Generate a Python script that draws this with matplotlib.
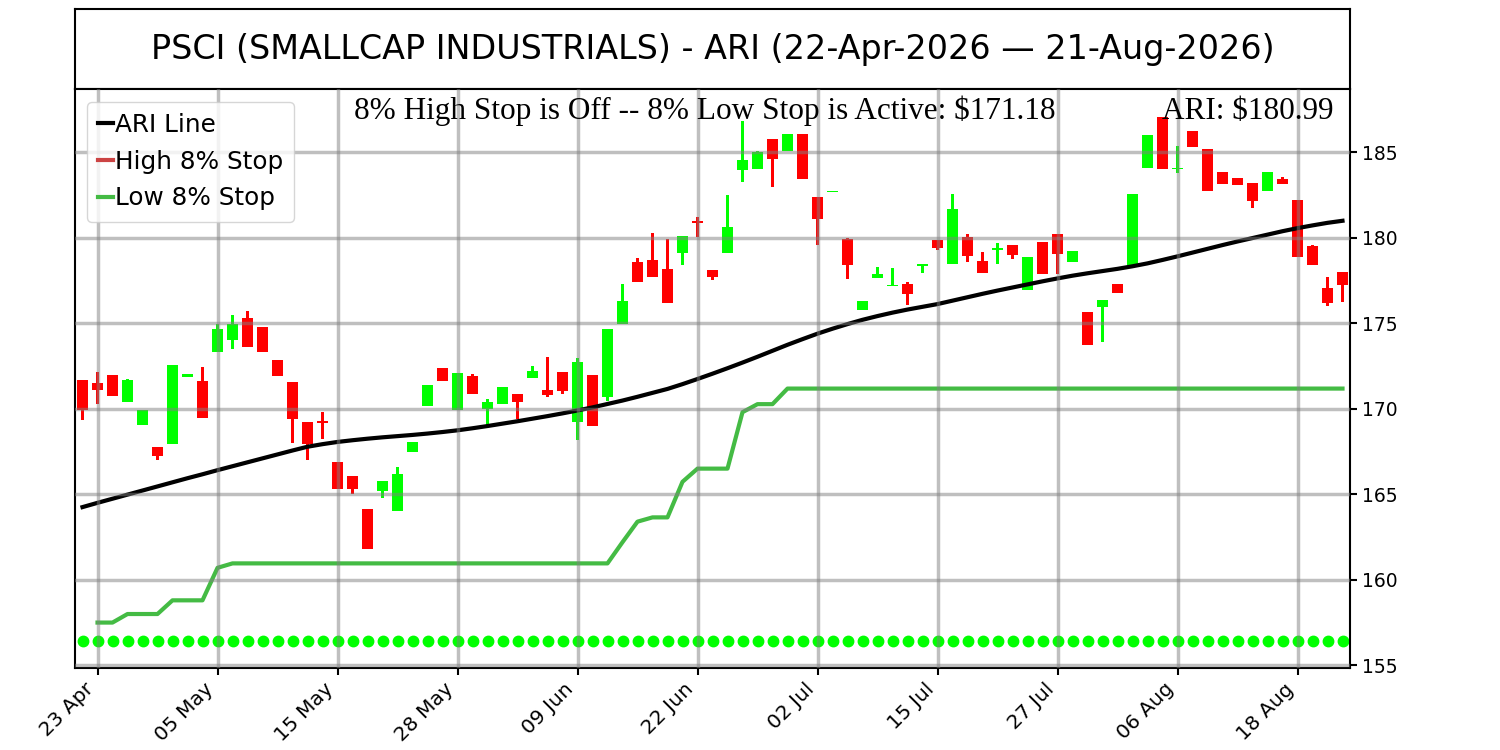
import numpy as np
import pandas as pd
import matplotlib
matplotlib.use('Agg')
import matplotlib.pyplot as plt

# trading days, US market holidays left out
dates = pd.bdate_range('2026-04-22', '2026-08-21', freq='C',
                       holidays=['2026-05-25', '2026-06-19', '2026-07-03'])

# daily candles
opens = [171.69, 171.51, 172.00, 170.38, 169.05, 167.75, 167.94, 171.86, 171.65, 173.29,
         174.01, 175.29, 174.78, 172.87, 171.59, 169.20, 169.30, 166.86, 166.06, 164.14,
         165.21, 164.05, 167.48, 170.15, 172.40, 169.94, 171.94, 170.00, 170.27, 170.89,
         171.78, 171.10, 172.17, 169.22, 171.99, 170.67, 174.94, 178.56, 178.72, 178.20,
         179.10, 181.00, 178.14, 179.10, 183.95, 183.99, 185.77, 185.08, 186.08, 182.40,
         182.68, 179.94, 175.79, 177.65, 177.15, 177.29, 178.35, 179.88, 178.47, 180.02,
         178.62, 179.30, 179.55, 176.92, 179.73, 180.23, 178.56, 175.68, 175.97, 177.29,
         178.41, 184.05, 187.06, 184.00, 186.25, 185.17, 183.86, 183.51, 183.22, 182.73,
         183.43, 182.21, 179.49, 177.05, 177.98]
highs = [171.69, 172.17, 172.00, 171.74, 169.94, 167.75, 172.58, 172.05, 172.46, 174.94,
         175.48, 175.72, 174.78, 172.87, 171.59, 169.20, 169.79, 166.86, 166.06, 164.14,
         165.76, 166.59, 168.08, 171.41, 172.40, 172.09, 172.05, 170.58, 171.30, 170.89,
         172.48, 173.04, 172.17, 172.94, 171.99, 174.67, 177.28, 178.80, 180.25, 179.92,
         180.12, 181.24, 178.14, 182.52, 186.80, 185.08, 185.77, 186.08, 186.08, 182.40,
         182.74, 180.00, 176.30, 178.27, 178.21, 177.40, 178.49, 179.88, 182.58, 180.19,
         179.15, 179.67, 179.55, 178.90, 179.73, 180.23, 179.20, 175.68, 176.34, 177.29,
         182.58, 186.00, 187.06, 185.38, 186.25, 185.17, 183.86, 183.51, 183.22, 183.86,
         183.55, 182.21, 179.55, 177.69, 177.98]
lows = [169.32, 170.29, 170.73, 170.38, 169.05, 167.00, 167.94, 171.86, 169.45, 173.29,
        173.52, 173.64, 173.29, 171.90, 168.00, 167.00, 168.22, 165.28, 165.03, 161.80,
        164.80, 164.05, 167.48, 170.15, 171.60, 169.94, 170.85, 168.93, 170.27, 169.38,
        171.78, 170.67, 170.85, 168.17, 168.99, 170.48, 174.94, 177.42, 177.71, 176.16,
        178.41, 180.03, 177.53, 179.10, 183.27, 183.99, 182.94, 185.08, 183.41, 179.57,
        182.68, 177.59, 175.79, 177.65, 177.15, 176.08, 177.94, 179.28, 178.47, 178.56,
        177.94, 178.47, 178.76, 176.92, 177.85, 177.86, 178.56, 173.70, 173.93, 176.78,
        178.41, 184.05, 183.99, 183.76, 185.28, 182.71, 183.12, 183.06, 181.76, 182.73,
        183.14, 178.87, 178.40, 176.03, 176.24]
closes = [169.94, 171.10, 170.73, 171.70, 169.94, 167.23, 172.58, 172.05, 169.45, 174.65,
          174.94, 173.64, 173.29, 171.90, 169.40, 167.94, 169.17, 165.28, 165.29, 161.80,
          165.76, 166.18, 168.08, 171.41, 171.60, 172.09, 170.85, 170.42, 171.30, 170.38,
          172.21, 170.79, 171.01, 172.73, 168.99, 174.67, 176.30, 177.42, 177.71, 176.16,
          180.12, 180.87, 177.71, 180.64, 184.53, 185.02, 184.63, 186.08, 183.41, 181.08,
          182.74, 178.43, 176.30, 177.88, 177.25, 176.69, 178.49, 179.40, 181.66, 178.95,
          177.94, 179.42, 179.01, 178.90, 177.85, 179.05, 179.20, 173.70, 176.34, 176.78,
          182.58, 186.00, 183.99, 184.10, 185.28, 182.71, 183.12, 183.06, 182.13, 183.86,
          183.14, 178.87, 178.40, 176.16, 177.21]

# ARI line
ari = [164.25, 164.50, 164.74, 164.98, 165.22, 165.46, 165.70, 165.94, 166.17, 166.41,
       166.64, 166.87, 167.10, 167.33, 167.56, 167.78, 167.93, 168.06, 168.16, 168.25,
       168.33, 168.40, 168.47, 168.55, 168.64, 168.74, 168.86, 168.99, 169.13, 169.27,
       169.42, 169.57, 169.73, 169.90, 170.08, 170.28, 170.48, 170.70, 170.93, 171.16,
       171.44, 171.74, 172.05, 172.37, 172.70, 173.04, 173.39, 173.74, 174.07, 174.39,
       174.68, 174.95, 175.20, 175.42, 175.62, 175.80, 175.96, 176.12, 176.32, 176.52,
       176.72, 176.91, 177.09, 177.27, 177.45, 177.62, 177.78, 177.92, 178.05, 178.18,
       178.33, 178.50, 178.70, 178.91, 179.13, 179.35, 179.57, 179.78, 179.98, 180.18,
       180.38, 180.56, 180.72, 180.87, 180.99]

# 8% low stop (active), high stop is off
low_stop = [np.nan, 157.50, 157.50, 158.00, 158.00, 158.00, 158.80, 158.80, 158.80, 160.70,
            160.96, 160.96, 160.96, 160.96, 160.96, 160.96, 160.96, 160.96, 160.96, 160.96,
            160.96, 160.96, 160.96, 160.96, 160.96, 160.96, 160.96, 160.96, 160.96, 160.96,
            160.96, 160.96, 160.96, 160.96, 160.96, 160.96, 162.20, 163.40, 163.65, 163.65,
            165.73, 166.50, 166.50, 166.50, 169.80, 170.27, 170.27, 171.18, 171.18, 171.18,
            171.18, 171.18, 171.18, 171.18, 171.18, 171.18, 171.18, 171.18, 171.18, 171.18,
            171.18, 171.18, 171.18, 171.18, 171.18, 171.18, 171.18, 171.18, 171.18, 171.18,
            171.18, 171.18, 171.18, 171.18, 171.18, 171.18, 171.18, 171.18, 171.18, 171.18,
            171.18, 171.18, 171.18, 171.18, 171.18]
signal_level = [156.4] * len(dates)

x = np.arange(len(dates))
o = np.array(opens)
c = np.array(closes)
h = np.array(highs)
l = np.array(lows)
colors = np.where(c >= o, '#00ff00', '#ff0000')

fig = plt.figure(figsize=(15, 7.5), dpi=100)

# title box
ax_t = fig.add_axes([0.05, 0.881, 0.85, 0.107])
ax_t.set_xticks([])
ax_t.set_yticks([])
for s in ax_t.spines.values():
    s.set_linewidth(1.5)
ax_t.text(0.5, 0.5, 'PSCI (SMALLCAP INDUSTRIALS) - ARI (22-Apr-2026 \u2014 21-Aug-2026)',
          ha='center', va='center', fontsize=24, transform=ax_t.transAxes)

ax = fig.add_axes([0.05, 0.1097, 0.85, 0.7713])

# candles
ax.bar(x, h - l, bottom=l, width=0.25, color=colors, zorder=1)
ax.bar(x, np.abs(c - o), bottom=np.minimum(o, c), width=0.7, color=colors, zorder=1)

ax.plot(x, ari, color='black', lw=3, label='ARI Line')
ax.plot([], [], color='#cc4444', lw=3, label='High 8% Stop')
ax.plot(x, low_stop, color='#44bb44', lw=3, label='Low 8% Stop')
ax.plot(x, signal_level, 'o', color='#00ff00', markersize=7.5)

ax.set_xlim(-0.5, len(x) - 0.5)
ax.set_ylim(154.86, 188.68)
ax.yaxis.tick_right()
ax.set_yticks([155, 160, 165, 170, 175, 180, 185])
ax.set_xticks(x[1::8])
ax.set_xticklabels(dates[1::8].strftime('%d %b'), rotation=45, ha='right')
ax.tick_params(width=1.5, length=5)
ax.tick_params(axis='x', labelsize=14.5)
ax.tick_params(axis='y', labelsize=13.5)
for s in ax.spines.values():
    s.set_linewidth(1.5)

ax.set_axisbelow(False)
ax.grid(True, color='gray', alpha=0.5, lw=2.5)

ax.legend(loc='upper left', fontsize=17.8, handlelength=0.6, handletextpad=0.05,
          borderpad=0.45, labelspacing=0.52)

serif = ['Liberation Serif', 'DejaVu Serif']
ax.text(0.494, 0.9487, '8% High Stop is Off -- 8% Low Stop is Active: $171.18',
        ha='center', va='baseline', fontsize=22.5, family=serif, transform=ax.transAxes)
ax.text(0.9867, 0.9487, 'ARI: $180.99', ha='right', va='baseline', fontsize=22.5,
        family=serif, transform=ax.transAxes)

plt.savefig('out.png', dpi=100)
